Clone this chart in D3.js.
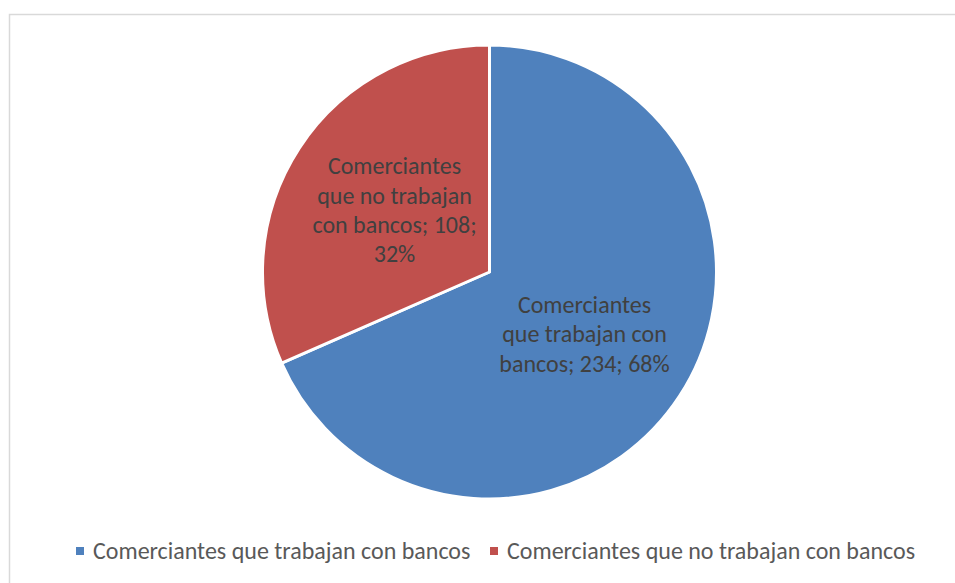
<!DOCTYPE html>
<html>
<head>
<meta charset="utf-8">
<script src="https://cdn.jsdelivr.net/npm/d3@7"></script>
<style>
  html, body { margin: 0; padding: 0; background: #fff; }
  svg { display: block; }
</style>
</head>
<body>
<svg id="chart" width="955" height="583"></svg>
<script>
// Comerciantes por relación con bancos
const categories = ["Comerciantes que trabajan con bancos", "Comerciantes que no trabajan con bancos"];
const values = [234, 108];
const percents = ["68%", "32%"];
const colors = ["#4f81bd", "#c0504d"];
// Label lines as wrapped inside each slice
const labelLines = [
  ["Comerciantes", "que trabajan con", "bancos; 234; 68%"],
  ["Comerciantes", "que no trabajan", "con bancos; 108;", "32%"]
];

const svg = d3.select("#chart");
const font = "Carlito, Calibri, Lato, 'Liberation Sans', sans-serif";

// chart frame
svg.append("rect")
  .attr("x", 9.5).attr("y", 14.5)
  .attr("width", 960).attr("height", 600)
  .attr("fill", "#fff")
  .attr("stroke", "#d9d9d9").attr("stroke-width", 1.5);

const cx = 489.5, cy = 272, r = 227;
const g = svg.append("g").attr("transform", `translate(${cx},${cy})`);

const data = categories.map((c, i) => ({ name: c, value: values[i], i }));
const pie = d3.pie().value(d => d.value).sort(null);
const arc = d3.arc().innerRadius(0).outerRadius(r);
const arcs = pie(data);

g.selectAll("path.slice").data(arcs).join("path")
  .attr("class", "slice")
  .attr("d", arc)
  .attr("fill", d => colors[d.data.i])
  .attr("stroke", "#fff")
  .attr("stroke-width", 3)
  .attr("stroke-linejoin", "round");

// data labels inside slices
const labelArc = d3.arc().innerRadius(r * 0.5).outerRadius(r * 0.5);
const lineH = 29.3;
g.selectAll("text.lbl").data(arcs).join("text")
  .attr("class", "lbl")
  .attr("font-family", font)
  .attr("font-size", 24)
  .attr("fill", "#404040")
  .attr("text-anchor", "middle")
  .each(function(d) {
    const lines = labelLines[d.data.i];
    const [x, y] = labelArc.centroid(d);
    const t = d3.select(this);
    const y0 = y - (lines.length - 1) * lineH / 2;
    lines.forEach((l, k) => {
      t.append("tspan").attr("x", x).attr("y", y0 + k * lineH).attr("dy", "0.35em").text(l);
    });
  });

// legend
const legend = svg.append("g").attr("font-family", font).attr("font-size", 24).attr("fill", "#595959");
const legendItems = [{ x: 76 }, { x: 490 }];
categories.forEach((c, i) => {
  const it = legend.append("g").attr("transform", `translate(${legendItems[i].x},551)`);
  it.append("rect").attr("x", 0).attr("y", -4).attr("width", 8).attr("height", 8).attr("fill", colors[i]);
  it.append("text").attr("x", 17).attr("y", 0).attr("dy", "0.35em").text(c);
});
</script>
</body>
</html>
